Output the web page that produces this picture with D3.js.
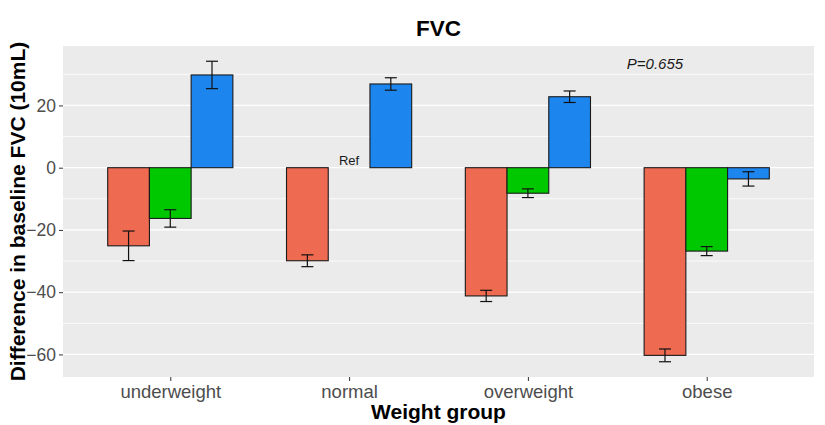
<!DOCTYPE html>
<html>
<head>
<meta charset="utf-8">
<script src="https://cdn.jsdelivr.net/npm/d3@7"></script>
<style>
  html, body { margin: 0; padding: 0; background: #fff; }
  svg { display: block; font-family: "Liberation Sans", Arial, sans-serif; }
</style>
</head>
<body>
<svg id="chart" width="825" height="425"></svg>
<script>
// ---- data ----
const categories = ["underweight", "normal", "overweight", "obese"];
const seriesNames = ["Group 1", "Group 2", "Group 3"];
const seriesColors = ["#EE6A50", "#00C800", "#1C86EE"];
const values1 = [-25.1, -29.9, -41.2, -60.3];
const errors1 = [4.75, 1.9, 1.8, 2.05];
const values2 = [-16.3, 0, -8.2, -26.8];
const errors2 = [2.8, 0, 1.4, 1.45];
const values3 = [29.8, 26.9, 22.8, -3.6];
const errors3 = [4.4, 2.0, 1.85, 2.3];
const yTicks = [20, 0, -20, -40, -60];
const yMinor = [30, 10, -10, -30, -50];
const titleText = "FVC";
const xTitle = "Weight group";
const yTitle = "Difference in baseline FVC (10mL)";
const pText = "P=0.655";
const refText = "Ref";

const seriesVals = [values1, values2, values3];
const seriesErr = [errors1, errors2, errors3];

// ---- layout ----
const panel = { x0: 63, x1: 814, y0: 46, y1: 377 };
const svg = d3.select("#chart");

const y = d3.scaleLinear().domain([-67.25, 39.1]).range([panel.y1, panel.y0]);
const x = d3.scalePoint().domain(categories).range([panel.x0, panel.x1]).padding(0.6);
const groupW = x.step() * 0.7;
const xs = d3.scaleBand().domain(seriesNames).range([-groupW / 2, groupW / 2]).padding(0);

// panel background
svg.append("rect")
  .attr("x", panel.x0).attr("y", panel.y0)
  .attr("width", panel.x1 - panel.x0).attr("height", panel.y1 - panel.y0)
  .attr("fill", "#EBEBEB");

// gridlines
svg.append("g").selectAll("line").data(yMinor).join("line")
  .attr("x1", panel.x0).attr("x2", panel.x1)
  .attr("y1", d => y(d)).attr("y2", d => y(d))
  .attr("stroke", "#fff").attr("stroke-width", 0.8);
svg.append("g").selectAll("line").data(yTicks).join("line")
  .attr("x1", panel.x0).attr("x2", panel.x1)
  .attr("y1", d => y(d)).attr("y2", d => y(d))
  .attr("stroke", "#fff").attr("stroke-width", 1.3);

// bars
const rows = [];
categories.forEach((c, i) => {
  seriesNames.forEach((s, j) => {
    rows.push({ cat: c, series: s, v: seriesVals[j][i], e: seriesErr[j][i], color: seriesColors[j] });
  });
});

const gBars = svg.append("g");
gBars.selectAll("rect").data(rows).join("rect")
  .attr("x", d => x(d.cat) + xs(d.series))
  .attr("width", xs.bandwidth())
  .attr("y", d => y(Math.max(0, d.v)))
  .attr("height", d => Math.abs(y(d.v) - y(0)))
  .attr("fill", d => d.color)
  .attr("stroke", "#1a1a1a")
  .attr("stroke-width", 1.1);

// error bars
const capW = 12;
const gErr = svg.append("g").attr("stroke", "#111").attr("stroke-width", 1.2);
rows.filter(d => d.e > 0).forEach(d => {
  const cx = x(d.cat) + xs(d.series) + xs.bandwidth() / 2;
  const yt = y(d.v + d.e), yb = y(d.v - d.e);
  gErr.append("line").attr("x1", cx).attr("x2", cx).attr("y1", yt).attr("y2", yb);
  gErr.append("line").attr("x1", cx - capW / 2).attr("x2", cx + capW / 2).attr("y1", yt).attr("y2", yt);
  gErr.append("line").attr("x1", cx - capW / 2).attr("x2", cx + capW / 2).attr("y1", yb).attr("y2", yb);
});

// Ref label
svg.append("text")
  .attr("x", x("normal")).attr("y", y(0) - 2.5)
  .attr("text-anchor", "middle")
  .attr("font-size", 13).attr("fill", "#1a1a1a")
  .text(refText);

// P value
svg.append("text")
  .attr("x", 655).attr("y", 68.5)
  .attr("text-anchor", "middle")
  .attr("font-size", 15).attr("font-style", "italic").attr("fill", "#1a1a1a")
  .text(pText);

// y axis
const yAxis = d3.axisLeft(y).tickValues(yTicks).tickSize(4).tickPadding(3);
const gy = svg.append("g").attr("transform", `translate(${panel.x0},0)`).call(yAxis);
gy.select(".domain").remove();
gy.selectAll(".tick line").attr("stroke", "#333");
gy.selectAll(".tick text").attr("font-size", 17.5).attr("fill", "#4D4D4D")
  .attr("font-family", "'Liberation Sans', Arial, sans-serif");

// x axis
const xAxis = d3.axisBottom(x).tickSize(4).tickPadding(4);
const gx = svg.append("g").attr("transform", `translate(0,${panel.y1})`).call(xAxis);
gx.select(".domain").remove();
gx.selectAll(".tick line").attr("stroke", "#333");
gx.selectAll(".tick text").attr("font-size", 18.5).attr("fill", "#4D4D4D")
  .attr("font-family", "'Liberation Sans', Arial, sans-serif");

// titles
svg.append("text")
  .attr("x", (panel.x0 + panel.x1) / 2).attr("y", 36)
  .attr("text-anchor", "middle").attr("font-size", 22.5).attr("font-weight", "bold")
  .text(titleText);

svg.append("text")
  .attr("x", (panel.x0 + panel.x1) / 2).attr("y", 419)
  .attr("text-anchor", "middle").attr("font-size", 21).attr("font-weight", "bold")
  .text(xTitle);

svg.append("text")
  .attr("transform", `translate(25,${(panel.y0 + panel.y1) / 2}) rotate(-90)`)
  .attr("text-anchor", "middle").attr("font-size", 21).attr("font-weight", "bold")
  .text(yTitle);
</script>
</body>
</html>
